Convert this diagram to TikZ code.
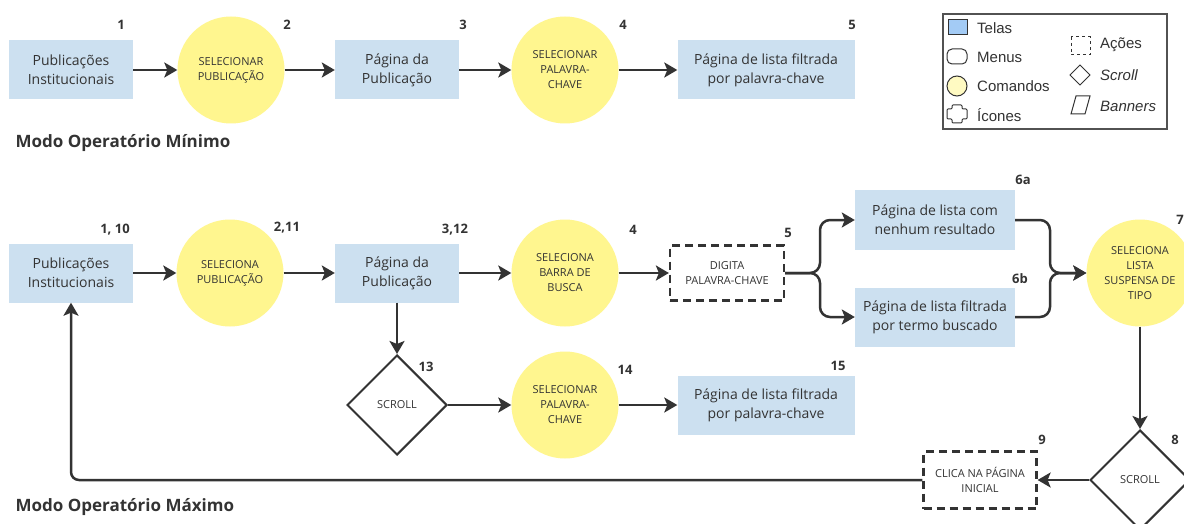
\documentclass[tikz,border=0pt]{standalone}
\usepackage{fontspec}
\setmainfont{Open Sans}
\newfontfamily\legfont{Liberation Sans}
\usetikzlibrary{arrows.meta,shapes.geometric,positioning}
\definecolor{telafill}{HTML}{CCE0F0}
\definecolor{cmdfill}{HTML}{FFF68F}
\definecolor{ink}{HTML}{333333}
\definecolor{legblue}{HTML}{A3CBF5}
\definecolor{legyellow}{HTML}{FFFAC2}
\tikzset{
  tela/.style={fill=telafill,minimum width=124pt,minimum height=59pt,align=center,
               text=ink,inner sep=0pt,font=\fontsize{14}{19}\selectfont},
  cmd/.style={circle,fill=cmdfill,minimum size=107pt,align=center,inner sep=0pt,
              text=ink,font=\fontsize{11}{15}\selectfont},
  acao/.style={draw=ink,line width=2.2pt,dash pattern=on 8pt off 5pt,align=center,
               text=ink,inner sep=0pt,font=\fontsize{11}{15}\selectfont},
  rolar/.style={diamond,draw=ink,line width=2pt,minimum size=100pt,aspect=1,
                inner sep=0pt,text=ink,font=\fontsize{11}{13}\selectfont},
  num/.style={text=ink,font=\bfseries\fontsize{13}{15}\selectfont},
  titulo/.style={anchor=west,text=ink,font=\bfseries\fontsize{17}{20}\selectfont},
  seta/.style={-{Stealth[length=13pt,width=15pt,inset=3pt]},line width=2.5pt,draw=ink},
  legtxt/.style={anchor=west,inner sep=0pt,text=ink,font=\legfont\fontsize{15}{17}\selectfont},
  legshape/.style={draw=ink,line width=1pt}
}
\begin{document}
\begin{tikzpicture}[x=1pt,y=-1pt]
  \useasboundingbox[fill=white] (0,0) rectangle (1184,524);

  % Modo minimo
  \node[tela] (pubMin) at (71,70) {Publicações\\Institucionais};
  \node[cmd] (selPubMin) at (231,70) {SELECIONAR\\PUBLICAÇÃO};
  \node[tela] (pagMin) at (397,70) {Página da\\Publicação};
  \node[cmd] (selPalMin) at (565,70) {SELECIONAR\\PALAVRA-\\CHAVE};
  \node[tela,minimum width=177pt] (listaMin) at (766,70) {Página de lista filtrada\\por palavra-chave};
  \node[num] (n1) at (121,25) {1};
  \node[num] (n2) at (287,25) {2};
  \node[num] (n3) at (463,25) {3};
  \node[num] (n4) at (623,25) {4};
  \node[num] (n5) at (852,25) {5};
  \draw[seta] (pubMin) -- (selPubMin);
  \draw[seta] (selPubMin) -- (pagMin);
  \draw[seta] (pagMin) -- (selPalMin);
  \draw[seta] (selPalMin) -- (listaMin);
  \node[titulo] (tMin) at (12,143) {Modo Operatório Mínimo};

  % Legenda
  \draw[draw=ink!85,line width=1.3pt] (943,14) rectangle (1167,129);
  \draw[legshape,fill=legblue] (948,20) rectangle (967,35);
  \node[legtxt] (lTelas) at (977,28) {Telas};
  \draw[legshape,rounded corners=5pt] (947,49) rectangle (967,64);
  \node[legtxt] (lMenus) at (977,57) {Menus};
  \draw[legshape,fill=legyellow] (957,86) circle (10);
  \node[legtxt] (lCmd) at (977,86) {Comandos};
  \draw[legshape,rounded corners=1pt] (952,105) -- (962,105) -- (962,109) -- (967,109) -- (967,119)
    -- (962,119) -- (962,123) -- (952,123) -- (952,119) -- (947,119) -- (947,109) -- (952,109) -- cycle;
  \node[legtxt] (lIcones) at (977,115) {Ícones};
  \draw[legshape,dashed] (1071,37) rectangle (1090,55);
  \node[legtxt] (lAcoes) at (1100,45) {Ações};
  \draw[legshape] (1080,65) -- (1090,75) -- (1080,85) -- (1070,75) -- cycle;
  \node[legtxt,font=\legfont\itshape\fontsize{15}{17}\selectfont] (lScroll) at (1100,75) {Scroll};
  \draw[legshape] (1076,96) -- (1090,96) -- (1085,114) -- (1071,114) -- cycle;
  \node[legtxt,font=\legfont\itshape\fontsize{15}{17}\selectfont] (lBanners) at (1100,106) {Banners};

  % Modo maximo
  \node[tela] (pub) at (71,273) {Publicações\\Institucionais};
  \node[cmd] (selPub) at (230,273) {SELECIONA\\PUBLICAÇÃO};
  \node[tela] (pag) at (397,273) {Página da\\Publicação};
  \node[cmd] (selBusca) at (565,273) {SELECIONA\\BARRA DE\\BUSCA};
  \node[acao,minimum width=114pt,minimum height=55pt] (digita) at (727,273) {DIGITA\\PALAVRA-CHAVE};
  \node[tela,minimum width=160pt] (semRes) at (935,220) {Página de lista com\\nenhum resultado};
  \node[tela,minimum width=160pt] (filtTermo) at (935,317) {Página de lista filtrada\\por termo buscado};
  \node[cmd] (selTipo) at (1140,273) {SELECIONA\\LISTA\\SUSPENSA DE\\TIPO};
  \node[rolar] (scroll8) at (1140,480) {SCROLL};
  \node[acao,minimum width=113pt,minimum height=57pt] (clica) at (980,480) {CLICA NA PÁGINA\\INICIAL};
  \node[rolar] (scroll13) at (397,405) {SCROLL};
  \node[cmd] (selPal) at (565,405) {SELECIONAR\\PALAVRA-\\CHAVE};
  \node[tela,minimum width=177pt] (listaPal) at (766,405) {Página de lista filtrada\\por palavra-chave};

  \node[num] (m1) at (115,230) {1, 10};
  \node[num] (m2) at (287,228) {2,11};
  \node[num] (m3) at (455,230) {3,12};
  \node[num] (m4) at (633,230) {4};
  \node[num] (m5) at (788,233) {5};
  \node[num] (m6a) at (1023,180) {6a};
  \node[num] (m6b) at (1020,279) {6b};
  \node[num] (m7) at (1180,220) {7};
  \node[num] (m8) at (1175,440) {8};
  \node[num] (m9) at (1042,440) {9};
  \node[num] (m13) at (426,367) {13};
  \node[num] (m14) at (625,370) {14};
  \node[num] (m15) at (838,366) {15};

  \coordinate (split) at (820,273);
  \coordinate (merge) at (1050,273);
  \draw[seta] (pub) -- (selPub);
  \draw[seta] (selPub) -- (pag);
  \draw[seta] (pag) -- (selBusca);
  \draw[seta] (selBusca) -- (digita);
  \draw[seta,rounded corners=10pt] (digita.east) -- (split) |- (semRes.west);
  \draw[seta,rounded corners=10pt] (digita.east) -- (split) |- (filtTermo.west);
  \draw[seta,rounded corners=10pt] (semRes.east) -| (merge) -- (selTipo.west);
  \draw[seta,rounded corners=10pt] (filtTermo.east) -| (merge) -- (selTipo.west);
  \draw[seta] (selTipo) -- (scroll8);
  \draw[seta] (scroll8) -- (clica);
  \draw[seta,rounded corners=8pt] (clica.west) -| (pub.south);
  \draw[seta] (pag) -- (scroll13);
  \draw[seta] (scroll13) -- (selPal);
  \draw[seta] (selPal) -- (listaPal);
  \node[titulo] (tMax) at (12,507) {Modo Operatório Máximo};
\end{tikzpicture}
\end{document}
